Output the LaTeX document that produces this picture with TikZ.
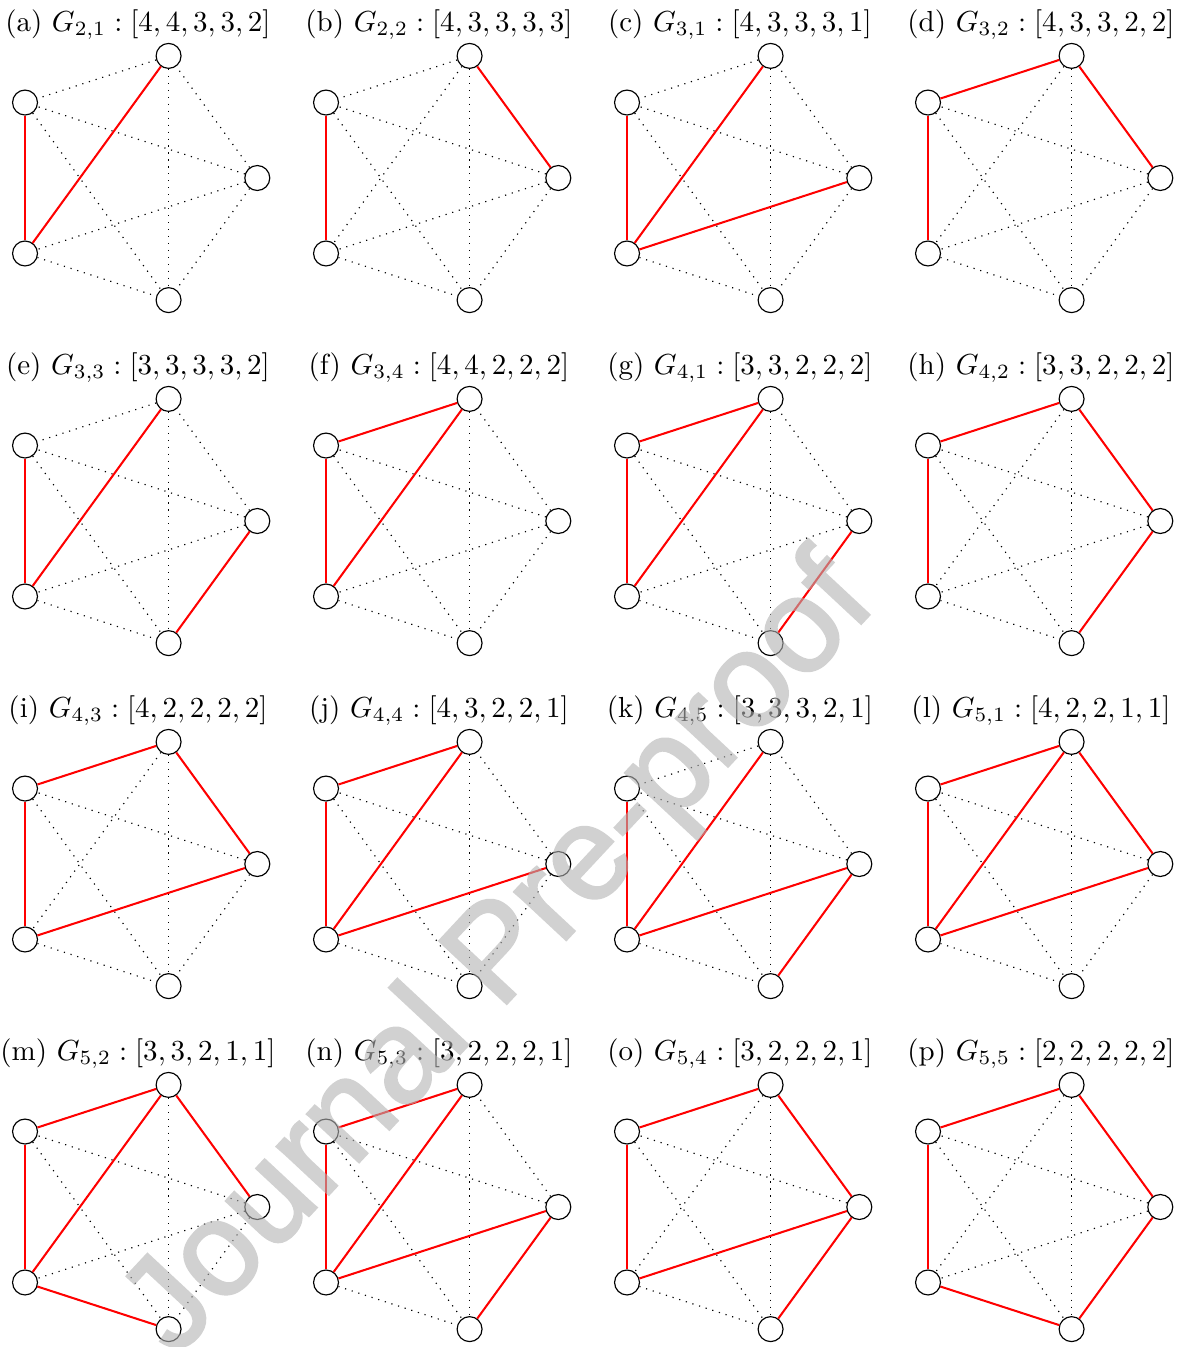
\documentclass[tikz,border=0pt]{standalone}
\usepackage{fontspec}
\newfontfamily\wmfont{Liberation Sans}[FakeBold=2]
\tikzset{
  vtx/.style={circle,draw,fill=white,minimum size=8.6pt,inner sep=0pt},
  nonedge/.style={dotted},
  redge/.style={red,line width=0.7pt},
  caption/.style={anchor=base,inner sep=0pt},
}
\begin{document}
\begin{tikzpicture}[x=0.3449pt,y=0.3449pt]
  \useasboundingbox (0,0) rectangle (1183,-1347);
  % one panel per graph: letter/column/row/index/degrees/red edges
  \foreach \p/\col/\row/\name/\deg/\red in {
      a/0/0/{2,1}/{4,4,3,3,2}/{2/3,3/1},
      b/1/0/{2,2}/{4,3,3,3,3}/{2/3,1/0},
      c/2/0/{3,1}/{4,3,3,3,1}/{2/3,3/1,3/0},
      d/3/0/{3,2}/{4,3,3,2,2}/{2/1,1/0,2/3},
      e/0/1/{3,3}/{3,3,3,3,2}/{2/3,3/1,4/0},
      f/1/1/{3,4}/{4,4,2,2,2}/{2/1,2/3,3/1},
      g/2/1/{4,1}/{3,3,2,2,2}/{2/1,2/3,3/1,0/4},
      h/3/1/{4,2}/{3,3,2,2,2}/{2/1,1/0,0/4,2/3},
      i/0/2/{4,3}/{4,2,2,2,2}/{2/1,1/0,2/3,3/0},
      j/1/2/{4,4}/{4,3,2,2,1}/{2/1,2/3,3/1,3/0},
      k/2/2/{4,5}/{3,3,3,2,1}/{2/3,3/1,3/0,0/4},
      l/3/2/{5,1}/{4,2,2,1,1}/{2/1,1/0,2/3,3/1,3/0},
      m/0/3/{5,2}/{3,3,2,1,1}/{2/1,1/0,2/3,3/1,3/4},
      n/1/3/{5,3}/{3,2,2,2,1}/{2/1,2/3,3/1,3/0,0/4},
      o/2/3/{5,4}/{3,2,2,2,1}/{2/1,1/0,0/4,2/3,3/0},
      p/3/3/{5,5}/{2,2,2,2,2}/{2/1,1/0,0/4,4/3,3/2}} {
    \begin{scope}[shift={(128.9+301*\col,-178-343*\row)}]
      \node[caption] (cap\p) at (9,147) {(\p) $G_{\name} : [\deg]$};
      \foreach \k in {0,...,4} \node[vtx] (\p\k) at (72*\k:128.4) {};
      \foreach \u/\v in {0/1,0/2,0/3,0/4,1/2,1/3,1/4,2/3,2/4,3/4}
        \draw[nonedge] (\p\u) -- (\p\v);
      \foreach \u/\v in \red \draw[redge] (\p\u) -- (\p\v);
    \end{scope}
  }
  \begin{scope}[transparency group,opacity=0.6]
    \node[text=black!30,rotate=47,
      font=\wmfont\fontsize{46}{46}\selectfont] (wm) at (502,-958) {Journal Pre-proof};
  \end{scope}
\end{tikzpicture}
\end{document}
